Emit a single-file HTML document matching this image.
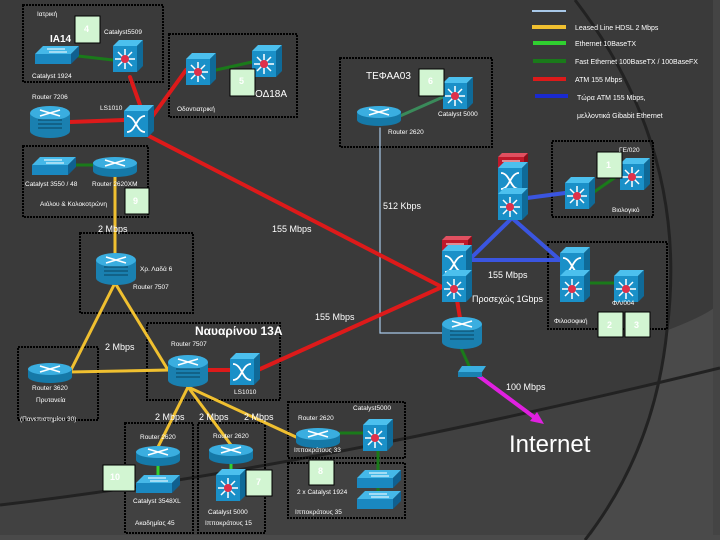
<!DOCTYPE html>
<html><head><meta charset="utf-8"><style>
html,body{margin:0;padding:0;background:#3a3a3a;}
svg{display:block;}
text{font-family:"Liberation Sans","DejaVu Sans",sans-serif;fill:#fff;}
</style></head><body>
<svg width="720" height="540" viewBox="0 0 720 540" xmlns="http://www.w3.org/2000/svg">
<defs>
<g id="rt"><!-- flat router 44x20 -->
<rect x="0" y="6" width="44" height="8" fill="#1579a8"/>
<ellipse cx="22" cy="14" rx="22" ry="6" fill="#1579a8"/>
<ellipse cx="22" cy="6" rx="22" ry="6" fill="#3aaee0"/>
<path d="M12 3 L32 9 M12 9 L32 3" stroke="#fff" stroke-width="1.6"/>
</g>
<g id="bigrt"><!-- big router 40x32 -->
<rect x="0" y="7" width="40" height="18" fill="#1a80b0"/>
<ellipse cx="20" cy="25" rx="20" ry="7" fill="#1a80b0"/>
<ellipse cx="20" cy="7" rx="20" ry="7" fill="#3aaee0"/>
<path d="M10 4 L30 10 M10 10 L30 4" stroke="#fff" stroke-width="1.6"/>
<path d="M8 14 H32 M8 18 H32 M8 22 H32" stroke="#0d5070" stroke-width="1.2"/>
</g>
<g id="sw"><!-- flat switch 44x18 -->
<path d="M8 0 H44 L36 8 H0 Z" fill="#45b8e8"/>
<path d="M0 8 H36 V18 H0 Z" fill="#1a88c0"/>
<path d="M36 8 L44 0 V10 L36 18 Z" fill="#106090"/>
<path d="M12 3 H30 M14 6 H32" stroke="#fff" stroke-width="1"/>
</g>
<g id="cs"><!-- cube star 30x32 -->
<path d="M0 6 L6 0 H30 L24 6 Z" fill="#4cc0ee"/>
<path d="M24 6 L30 0 V26 L24 32 Z" fill="#0f6a98"/>
<rect x="0" y="6" width="24" height="26" fill="#1a90c8"/>
<path d="M12 9 V29 M2 19 H22 M5 12 L19 26 M19 12 L5 26" stroke="#fff" stroke-width="1.5"/>
<circle cx="12" cy="19" r="4" fill="#e0304a"/>
</g>
<g id="cx"><!-- cube X 30x32 -->
<path d="M0 6 L6 0 H30 L24 6 Z" fill="#4cc0ee"/>
<path d="M24 6 L30 0 V26 L24 32 Z" fill="#0f6a98"/>
<rect x="0" y="6" width="24" height="26" fill="#1a90c8"/>
<path d="M3 11 C12 11 12 27 21 27 M3 27 C12 27 12 11 21 11" stroke="#fff" stroke-width="1.8" fill="none"/>
</g>
<g id="red"><!-- red box 30x16 -->
<path d="M0 4 L4 0 H30 L26 4 Z" fill="#e05060"/>
<rect x="0" y="4" width="26" height="12" fill="#c0182a"/>
<path d="M26 4 L30 0 V12 L26 16 Z" fill="#8a0e1a"/>
<path d="M4 8 H22 M4 12 H22" stroke="#fff" stroke-width="1"/>
</g>
</defs>

<!-- background -->
<rect width="720" height="540" fill="#3a3a3a"/>
<path d="M0 505 Q300 470 720 368 V540 H0 Z" fill="#414141"/>
<path d="M668 330 Q720 310 720 300 V540 H588 Q650 450 668 330 Z" fill="#4a4a4a"/>
<rect x="713" y="0" width="7" height="540" fill="#444"/>
<rect x="0" y="535" width="720" height="5" fill="#4a4a4a"/>
<path d="M575 0 Q690 150 667 330 Q655 450 585 540" stroke="#222" stroke-width="3" fill="none"/>
<path d="M0 505 Q300 470 720 368" stroke="#222" stroke-width="3" fill="none"/>

<!-- boxes -->
<g fill="none" stroke="#000" stroke-width="2" stroke-dasharray="2,1">
<rect x="23" y="5" width="140" height="77"/>
<rect x="169" y="34" width="128" height="83"/>
<rect x="340" y="58" width="152" height="89"/>
<rect x="23" y="146" width="125" height="71"/>
<rect x="80" y="233" width="113" height="80"/>
<rect x="147" y="323" width="133" height="77"/>
<rect x="18" y="347" width="80" height="73"/>
<rect x="125" y="423" width="68" height="110"/>
<rect x="198" y="423" width="67" height="110"/>
<rect x="288" y="402" width="117" height="56"/>
<rect x="288" y="463" width="117" height="55"/>
<rect x="552" y="141" width="101" height="76"/>
<rect x="548" y="242" width="119" height="87"/>
</g>

<!-- legend -->
<g stroke-width="4">
<line x1="532" y1="11" x2="566" y2="11" stroke="#a8c8e8" stroke-width="2"/>
<line x1="532" y1="27" x2="566" y2="27" stroke="#f0c030"/>
<line x1="533" y1="43" x2="566" y2="43" stroke="#30d030"/>
<line x1="533" y1="61" x2="566" y2="61" stroke="#1a7a1a"/>
<line x1="533" y1="79" x2="566" y2="79" stroke="#dd1a1a"/>
<line x1="535" y1="96" x2="568" y2="96" stroke="#1a2ad0"/>
</g>
<g font-size="7">
<text x="575" y="30">Leased Line HDSL 2 Mbps</text>
<text x="575" y="46">Ethernet 10BaseTX</text>
<text x="575" y="64">Fast Ethernet 100BaseTX / 100BaseFX</text>
<text x="575" y="82">ATM 155 Mbps</text>
<text x="577" y="100">Τώρα ATM 155 Mbps,</text>
<text x="577" y="118">μελλοντικά Gibabit Ethernet</text>
</g>

<!-- lines -->
<g stroke-linecap="round" fill="none">
<path d="M380 128 V333 H442" stroke="#a8c8e8" stroke-width="1.2"/>
<g stroke="#1a7a1a" stroke-width="3">
<path d="M78 56 L113 60"/><path d="M216 70 L252 62"/><path d="M75 165 H93"/>
<path d="M400 116 L443 97" stroke="#3a8a5a"/><path d="M594 192 L620 174"/><path d="M588 283 L614 283"/>
<path d="M460 346 L470 368"/><path d="M340 433 L363 433"/><path d="M378 450 V505"/>
</g>
<g stroke="#30d030" stroke-width="3"><path d="M158 465 V475"/><path d="M231 462 V473"/></g>
<g stroke="#dd1a1a" stroke-width="4">
<path d="M130 77 L140 105"/><path d="M152 117 L186 70"/><path d="M70 122 L124 120"/>
<path d="M147 135 L442 287"/><path d="M258 370 L442 287"/><path d="M207 370 L230 370"/>
<path d="M457 300 L460 318"/>
</g>
<g stroke="#3a55e0" stroke-width="4">
<path d="M527 198 L565 193"/><path d="M512 218 L471 258"/><path d="M512 218 L560 260"/><path d="M471 260 L560 260"/>
</g>
<g stroke="#f0c030" stroke-width="3">
<path d="M115 175 V255"/><path d="M115 283 L70 372 L168 370 Z"/>
<path d="M188 387 L158 447"/><path d="M188 387 L231 445"/><path d="M188 387 L296 437"/>
</g>
<path d="M476 374 L538 420" stroke="#e020e0" stroke-width="4"/>
<path d="M544 424 L530 421 L537 412 Z" fill="#e020e0"/>
</g>

<!-- devices -->
<use href="#sw" x="35" y="46"/>
<use href="#cs" x="113" y="40"/>
<use href="#cs" x="186" y="53"/>
<use href="#cs" x="252" y="45"/>
<use href="#bigrt" x="30" y="106"/>
<use href="#cx" x="124" y="105"/>
<use href="#sw" x="32" y="157"/>
<use href="#rt" x="93" y="157"/>
<use href="#rt" x="357" y="106"/>
<use href="#cs" x="443" y="77"/>
<use href="#red" x="498" y="153"/>
<use href="#cx" x="498" y="162"/>
<use href="#cs" x="498" y="188"/>
<use href="#red" x="442" y="236"/>
<use href="#cx" x="442" y="245"/>
<use href="#cs" x="442" y="270"/>
<use href="#bigrt" x="442" y="317"/>
<use href="#cs" x="565" y="177"/>
<use href="#cs" x="620" y="158"/>
<use href="#cx" x="560" y="247"/>
<use href="#cs" x="560" y="270"/>
<use href="#cs" x="614" y="270"/>
<g><path d="M462 366 H486 L482 372 H458 Z" fill="#3aaee0"/><rect x="458" y="372" width="24" height="5" fill="#1a80b0"/></g>
<use href="#bigrt" x="96" y="253"/>
<use href="#bigrt" x="168" y="355"/>
<use href="#cx" x="230" y="353"/>
<use href="#rt" x="28" y="363"/>
<use href="#rt" x="136" y="446"/>
<use href="#sw" x="136" y="475"/>
<use href="#rt" x="209" y="444"/>
<use href="#cs" x="216" y="469"/>
<use href="#rt" x="296" y="428"/>
<use href="#cs" x="363" y="419"/>
<use href="#sw" x="357" y="470"/>
<use href="#sw" x="357" y="491"/>

<!-- green number boxes -->
<g fill="#d2f5d2" stroke="#000" stroke-width="1">
<rect x="75" y="16" width="25" height="27"/>
<rect x="230" y="69" width="25" height="27"/>
<rect x="419" y="69" width="25" height="27"/>
<rect x="597" y="152" width="25" height="26"/>
<rect x="125" y="188" width="24" height="26"/>
<rect x="598" y="312" width="25" height="25"/>
<rect x="625" y="312" width="25" height="25"/>
<rect x="103" y="465" width="32" height="26"/>
<rect x="246" y="470" width="26" height="26"/>
<rect x="309" y="460" width="25" height="25"/>
</g>
<g font-size="9" font-weight="bold" style="fill:#f4fff4">
<text x="84" y="32">4</text><text x="239" y="84">5</text><text x="428" y="84">6</text>
<text x="606" y="168">1</text><text x="133" y="204">9</text><text x="607" y="328">2</text>
<text x="634" y="328">3</text><text x="110" y="480">10</text><text x="256" y="485">7</text>
<text x="318" y="474">8</text>
</g>

<!-- labels -->
<g font-size="6.5">
<text x="37" y="16">Ιατρική</text>
<text x="104" y="34">Catalyst5509</text>
<text x="32" y="78">Catalyst 1924</text>
<text x="32" y="99">Router 7206</text>
<text x="100" y="110">LS1010</text>
<text x="177" y="111">Οδοντιατρική</text>
<text x="438" y="116">Catalyst 5000</text>
<text x="388" y="134">Router 2620</text>
<text x="619" y="152">ΓΕ/020</text>
<text x="612" y="212">Βιολογικό</text>
<text x="25" y="186">Catalyst 3550 / 48</text>
<text x="92" y="186">Router 2620XM</text>
<text x="40" y="206">Αιόλου &amp; Κολοκοτρώνη</text>
<text x="140" y="271">Χρ. Λαδά 6</text>
<text x="133" y="289">Router 7507</text>
<text x="612" y="305">ΦΛ/004</text>
<text x="554" y="323">Φιλοσοφική</text>
<text x="171" y="346">Router 7507</text>
<text x="32" y="390">Router 3620</text>
<text x="36" y="402">Πρυτανεία</text>
<text x="20" y="421">(Πανεπιστημίου 30)</text>
<text x="234" y="394">LS1010</text>
<text x="140" y="439">Router 2620</text>
<text x="213" y="438">Router 2620</text>
<text x="353" y="410">Catalyst5000</text>
<text x="298" y="420">Router 2620</text>
<text x="294" y="452">Ιπποκράτους 33</text>
<text x="297" y="494">2 x Catalyst 1924</text>
<text x="295" y="514">Ιπποκράτους 35</text>
<text x="133" y="503">Catalyst 3548XL</text>
<text x="135" y="525">Ακαδημίας 45</text>
<text x="208" y="514">Catalyst 5000</text>
<text x="205" y="525">Ιπποκράτους 15</text>
</g>
<g font-size="9">
<text x="98" y="232">2 Mbps</text>
<text x="272" y="232">155 Mbps</text>
<text x="383" y="209">512 Kbps</text>
<text x="488" y="278">155 Mbps</text>
<text x="472" y="302">Προσεχώς 1Gbps</text>
<text x="315" y="320">155 Mbps</text>
<text x="105" y="350">2 Mbps</text>
<text x="506" y="390">100 Mbps</text>
<text x="155" y="420">2 Mbps</text>
<text x="199" y="420">2 Mbps</text>
<text x="244" y="420">2 Mbps</text>
</g>
<text x="50" y="42" font-size="10" font-weight="bold">ΙΑ14</text>
<text x="255" y="97" font-size="10">ΟΔ18Α</text>
<text x="366" y="79" font-size="10">ΤΕΦΑΑ03</text>
<text x="195" y="335" font-size="12" font-weight="bold">Ναυαρίνου 13Α</text>
<text x="509" y="452" font-size="24">Internet</text>
</svg>
</body></html>
